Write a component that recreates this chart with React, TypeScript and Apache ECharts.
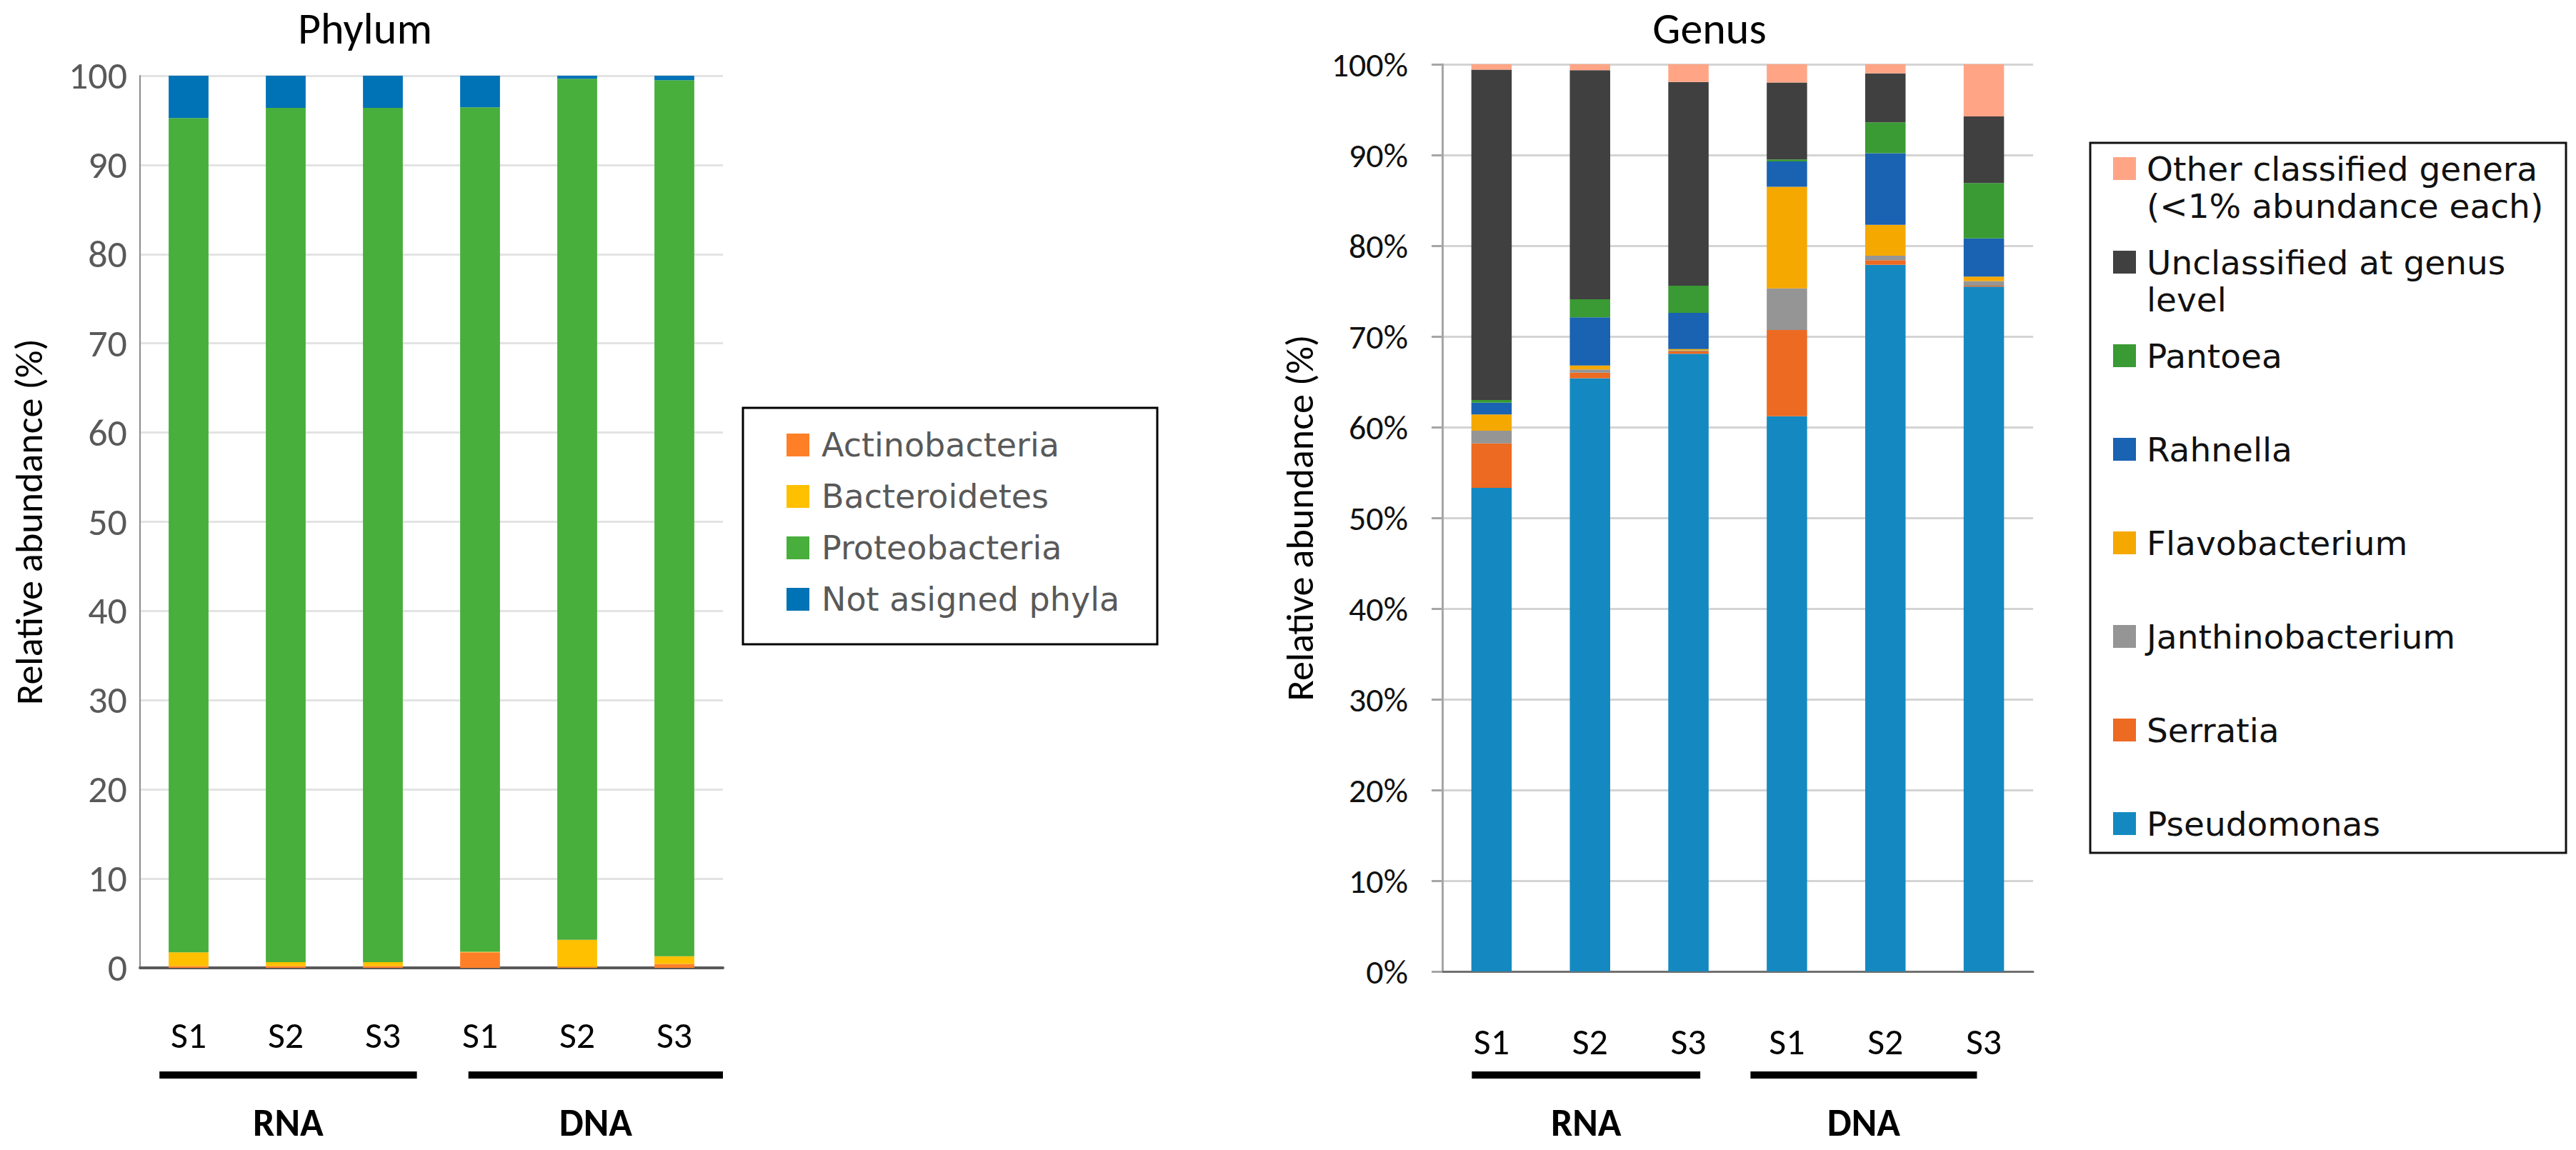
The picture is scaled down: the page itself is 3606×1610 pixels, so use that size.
import React, { useEffect, useRef } from "react";
import * as echarts from "echarts";

// ---------- DATA ----------
const samples = ["S1", "S2", "S3", "S1", "S2", "S3"];
const groupNames = ["RNA", "DNA"];

const phylumNames = ["Actinobacteria", "Bacteroidetes", "Proteobacteria", "Not asigned phyla"];
const actinobacteria = [0.2, 0.2, 0.2, 1.75, 0.1, 0.45];
const bacteroidetes = [1.55, 0.45, 0.45, 0.05, 3.05, 0.85];
const proteobacteria = [93.5, 95.75, 95.75, 94.65, 96.5, 98.2];
const notAssignedPhyla = [4.75, 3.6, 3.6, 3.55, 0.35, 0.5];

const genusNames = [
  "Pseudomonas",
  "Serratia",
  "Janthinobacterium",
  "Flavobacterium",
  "Rahnella",
  "Pantoea",
  "Unclassified at genus level",
  "Other classified genera (<1% abundance each)",
];
const genusLegendLabels = [
  "Pseudomonas",
  "Serratia",
  "Janthinobacterium",
  "Flavobacterium",
  "Rahnella",
  "Pantoea",
  "Unclassified at genus\nlevel",
  "Other classified genera\n(<1% abundance each)",
];
const pseudomonas = [53.3, 65.4, 68.1, 61.2, 77.9, 75.5];
const serratia = [4.9, 0.6, 0.25, 9.5, 0.5, 0.1];
const janthinobacterium = [1.4, 0.35, 0.1, 4.6, 0.5, 0.5];
const flavobacterium = [1.8, 0.45, 0.15, 11.2, 3.4, 0.5];
const rahnella = [1.3, 5.3, 4.0, 2.8, 7.9, 4.2];
const pantoea = [0.3, 2.0, 3.0, 0.2, 3.4, 6.1];
const unclassified = [36.4, 25.25, 22.45, 8.5, 5.4, 7.35];
const otherGenera = [0.6, 0.65, 1.95, 2.0, 1.0, 5.75];

// ---------- STYLE / LAYOUT ----------
const FONT = "Carlito, 'Liberation Sans Narrow', 'Liberation Sans', Arial, sans-serif";
const LEG_FONT = "'DejaVu Sans', Verdana, sans-serif";
const phylumColors = ["#FF7F27", "#FFC000", "#48AE3C", "#0072B6"];
const genusColors = ["#1489C1", "#EC6A22", "#959595", "#F5A800", "#1A62B2", "#3A9A34", "#404040", "#FFA586"];

const LG = { left: 196, top: 106, width: 816, height: 1249 };
const RG = { left: 2019, top: 90, width: 827, height: 1270 };
const leftGroupSpans = [[0.2, 2.85], [3.38, 6.0]];
const rightGroupSpans = [[0.3, 2.62], [3.13, 5.43]];
const GROUP_LINE_Y = 1505;
const GROUP_TEXT_Y = 1572;

function groupGraphics(grid: any, spans: number[][]) {
  const band = grid.width / samples.length;
  const out: any[] = [];
  spans.forEach((s, i) => {
    const x1 = grid.left + s[0] * band;
    const x2 = grid.left + s[1] * band;
    out.push({
      type: "rect",
      shape: { x: x1, y: GROUP_LINE_Y - 5, width: x2 - x1, height: 10 },
      style: { fill: "#000" },
      silent: true,
    });
    out.push({
      type: "text",
      x: (x1 + x2) / 2,
      y: GROUP_TEXT_Y,
      style: {
        text: groupNames[i],
        fontSize: 54,
        fontWeight: "bold",
        fontFamily: FONT,
        fill: "#000",
        align: "center",
        verticalAlign: "middle",
        textAlign: "center",
        textVerticalAlign: "middle",
      },
      silent: true,
    });
  });
  return out;
}

function buildOption() {
  const phylumValues = [actinobacteria, bacteroidetes, proteobacteria, notAssignedPhyla];
  const genusValues = [pseudomonas, serratia, janthinobacterium, flavobacterium, rahnella, pantoea, unclassified, otherGenera];

  const series: any[] = [];
  phylumNames.forEach((n, i) => {
    series.push({
      name: n,
      type: "bar",
      stack: "phylum",
      xAxisIndex: 0,
      yAxisIndex: 0,
      barWidth: "41%",
      data: phylumValues[i],
      itemStyle: { color: phylumColors[i] },
      silent: true,
    });
  });
  genusNames.forEach((n, i) => {
    series.push({
      name: n,
      type: "bar",
      stack: "genus",
      xAxisIndex: 1,
      yAxisIndex: 1,
      barWidth: "41%",
      data: genusValues[i],
      itemStyle: { color: genusColors[i] },
      silent: true,
    });
  });

  const RIGHT_FIRST = 236;
  const RIGHT_PITCH = 131;
  const RIGHT_LH = 52;
  const rightLegends = genusNames
    .map((n, i) => ({ n, label: genusLegendLabels[i] }))
    .reverse()
    .map((it, i) => {
      const two = it.label.indexOf("\n") >= 0;
      const c = RIGHT_FIRST + i * RIGHT_PITCH;
      return {
        data: [it.n],
        orient: "vertical",
        left: 2958,
        top: two ? c - 1.5 * RIGHT_LH : c - 0.5 * RIGHT_LH,
        padding: 0,
        itemWidth: 32,
        itemHeight: 32,
        icon: "rect",
        selectedMode: false,
        formatter: () => (two ? "\n" + it.label : it.label),
        textStyle: {
          fontFamily: LEG_FONT,
          fontSize: 47,
          color: "#111",
          lineHeight: RIGHT_LH,
          padding: [0, 0, 0, 10],
        },
      };
    });

  const leftLegend = {
    data: phylumNames,
    orient: "vertical",
    left: 1101,
    top: 595,
    padding: 0,
    itemWidth: 32,
    itemHeight: 32,
    itemGap: 16,
    icon: "rect",
    selectedMode: false,
    textStyle: {
      fontFamily: LEG_FONT,
      fontSize: 46,
      color: "#595959",
      lineHeight: 56,
      padding: [0, 0, 0, 12],
    },
  };

  return {
    animation: false,
    backgroundColor: "#fff",
    grid: [
      { left: LG.left, top: LG.top, width: LG.width, height: LG.height },
      { left: RG.left, top: RG.top, width: RG.width, height: RG.height },
    ],
    xAxis: [
      {
        type: "category",
        gridIndex: 0,
        data: samples,
        axisLine: { lineStyle: { color: "#595959", width: 4 } },
        axisTick: { show: false },
        axisLabel: { color: "#000", fontSize: 52, fontFamily: FONT, margin: 68 },
      },
      {
        type: "category",
        gridIndex: 1,
        data: samples,
        axisLine: { lineStyle: { color: "#707070", width: 3 } },
        axisTick: { show: false },
        axisLabel: { color: "#000", fontSize: 52, fontFamily: FONT, margin: 72 },
      },
    ],
    yAxis: [
      {
        type: "value",
        gridIndex: 0,
        min: 0,
        max: 100,
        interval: 10,
        name: "Relative abundance (%)",
        nameLocation: "middle",
        nameRotate: 90,
        nameGap: 128,
        nameTextStyle: { color: "#000", fontSize: 54, fontFamily: FONT },
        axisLine: { show: true, lineStyle: { color: "#8C8C8C", width: 2 } },
        axisTick: { show: false },
        axisLabel: { color: "#595959", fontSize: 54, fontFamily: FONT, margin: 18 },
        splitLine: { lineStyle: { color: "#E3E3E3", width: 3 } },
      },
      {
        type: "value",
        gridIndex: 1,
        min: 0,
        max: 100,
        interval: 10,
        name: "Relative abundance (%)",
        nameLocation: "middle",
        nameRotate: 90,
        nameGap: 172,
        nameTextStyle: { color: "#000", fontSize: 54, fontFamily: FONT },
        axisLine: { show: true, lineStyle: { color: "#A6A6A6", width: 3 } },
        axisTick: { show: true, inside: false, length: 15, lineStyle: { color: "#A6A6A6", width: 3 } },
        axisLabel: { color: "#111", fontSize: 48, fontFamily: FONT, margin: 48, formatter: "{value}%" },
        splitLine: { lineStyle: { color: "#D4D4D4", width: 3 } },
      },
    ],
    legend: [leftLegend, ...rightLegends],
    graphic: [
      {
        type: "text",
        x: 511,
        y: 40,
        style: {
          text: "Phylum",
          fontSize: 62,
          fontFamily: FONT,
          fill: "#000",
          align: "center",
          verticalAlign: "middle",
          textAlign: "center",
          textVerticalAlign: "middle",
        },
        silent: true,
      },
      {
        type: "text",
        x: 2393,
        y: 40,
        style: {
          text: "Genus",
          fontSize: 62,
          fontFamily: FONT,
          fill: "#000",
          align: "center",
          verticalAlign: "middle",
          textAlign: "center",
          textVerticalAlign: "middle",
        },
        silent: true,
      },
      {
        type: "rect",
        shape: { x: 1040, y: 571, width: 580, height: 331 },
        style: { fill: "none", stroke: "#000", lineWidth: 3 },
        silent: true,
      },
      {
        type: "rect",
        shape: { x: 2926, y: 200, width: 666, height: 994 },
        style: { fill: "none", stroke: "#111", lineWidth: 3 },
        silent: true,
      },
      ...groupGraphics(LG, leftGroupSpans),
      ...groupGraphics(RG, rightGroupSpans),
    ],
    series,
  };
}

export default function App() {
  const ref = useRef<HTMLDivElement>(null);
  useEffect(() => {
    if (!ref.current) return;
    const chart = echarts.init(ref.current, null, { renderer: "svg" });
    chart.setOption(buildOption() as any);
    return () => chart.dispose();
  }, []);
  return (
    <div
      ref={ref}
      style={{ position: "fixed", left: 0, top: 0, width: 3606, height: 1610, background: "#fff" }}
    />
  );
}
